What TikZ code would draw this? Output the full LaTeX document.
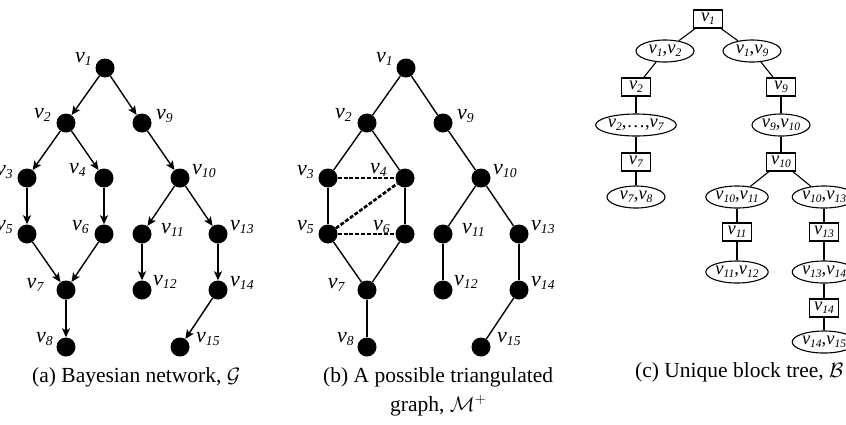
\documentclass[tikz,border=0pt]{standalone}
\usepackage{fontspec}
\setmainfont{Liberation Serif}
\usetikzlibrary{arrows.meta,shapes.geometric,calc}
\newcommand{\vl}[1]{\textit{v}\raisebox{-.3ex}{\scalebox{.62}{\textit{#1}}}}

\begin{document}
\begin{tikzpicture}[x=1pt, y=-1pt,
  dot/.style={circle, fill, inner sep=0pt, minimum size=19pt},
  lab/.style={inner sep=0pt, font=\fontsize{22}{22}\selectfont},
  arc/.style={line width=1.4pt, -{Stealth[length=9pt, width=8pt, inset=2pt]}},
  link/.style={line width=1.4pt},
  fillin/.style={line width=2.6pt, dash pattern=on 4pt off 1.8pt},
  sep/.style={draw, line width=1.1pt, rectangle, minimum width=29pt, minimum height=18pt, inner sep=1pt, font=\fontsize{18.5}{18.5}\selectfont},
  blk/.style={draw, line width=1.1pt, ellipse, minimum width=58pt, minimum height=22pt, inner sep=0.5pt, font=\fontsize{18.5}{18.5}\selectfont},
  captxt/.style={inner sep=0pt, font=\fontsize{21.5}{26}\selectfont}]
\useasboundingbox (0,0) rectangle (846,424);

% (a) network and (b) triangulated graph share the vertex layout
\foreach \p/\s in {a/0, b/301} {
  \foreach \n/\x/\y/\a/\dx/\dy in {1/105/68/base east/-13/-6, 2/66/123/base east/-15/-5,
      9/142/123/base west/14/-4, 3/27/178/base east/-14/-3, 4/104/178/base east/-18/-5,
      10/180/178/base west/12/-4, 5/27/234/base east/-14/-4, 6/104/234/base east/-15/-4,
      11/142/234/base west/19/-1, 13/218/234/base west/12/-4, 7/66/290/base east/-22/-2,
      12/142/290/base west/11/-5, 14/218/290/base west/12/-4, 8/66/347/base east/-13/-5,
      15/180/347/base west/16/-5} {
    \node[dot] (\p\n) at (\x+\s,\y) {};
    \node[lab, anchor=\a] (l\p\n) at ($(\p\n)+(\dx,\dy)$) {\vl{\n}};
  }
}
\foreach \i/\j in {1/2,1/9,2/3,2/4,9/10,3/5,4/6,10/11,10/13,5/7,6/7,11/12,13/14,7/8,14/15} {
  \draw[arc] (a\i) -- (a\j);
  \draw[link] (b\i) -- (b\j);
}
% fill-in edges
\draw[fillin] (b3) -- (b4);
\draw[fillin] (b5) -- (b4);
\draw[fillin] (b5) -- (b6);

% (c) block tree
\node[sep] (s1) at (708,19) {\vl{1}};
\node[blk] (k12) at (665,51) {\vl{1},\vl{2}};
\node[blk] (k19) at (752,51) {\vl{1},\vl{9}};
\node[sep] (s2) at (636,87) {\vl{2}};
\node[sep] (s9) at (781,87) {\vl{9}};
\node[blk] (k27) at (636,125) {\vl{2},\ldots,\vl{7}};
\node[blk] (k910) at (781,125) {\vl{9},\vl{10}};
\node[sep] (s7) at (636,162) {\vl{7}};
\node[sep] (s10) at (781,162) {\vl{10}};
\node[blk] (k78) at (636,197) {\vl{7},\vl{8}};
\node[blk] (k1011) at (737,197) {\vl{10},\vl{11}};
\node[blk] (k1013) at (824,197) {\vl{10},\vl{13}};
\node[sep] (s11) at (737,232) {\vl{11}};
\node[sep] (s13) at (824,232) {\vl{13}};
\node[blk] (k1112) at (737,272) {\vl{11},\vl{12}};
\node[blk] (k1314) at (824,272) {\vl{13},\vl{14}};
\node[sep] (s14) at (824,308) {\vl{14}};
\node[blk] (k1415) at (824,342) {\vl{14},\vl{15}};
\foreach \i/\j in {s1/k12,s1/k19,k12/s2,k19/s9,s2/k27,s9/k910,k27/s7,k910/s10,s7/k78,
    s10/k1011,s10/k1013,k1011/s11,k1013/s13,s11/k1112,s13/k1314,k1314/s14,s14/k1415}
  \draw[line width=1.1pt] (\i) -- (\j);

% captions
\node[captxt, anchor=base west] (capa) at (32,382) {(a) Bayesian network, $\mathcal{G}$};
\node[captxt, anchor=base west] (capb) at (323,382) {(b) A possible triangulated};
\node[captxt, anchor=base west] (capb2) at (390,411) {graph, $\mathcal{M}^{+}$};
\node[captxt, anchor=base west] (capc) at (635,377) {(c) Unique block tree, $\mathcal{B}$};
\end{tikzpicture}
\end{document}
